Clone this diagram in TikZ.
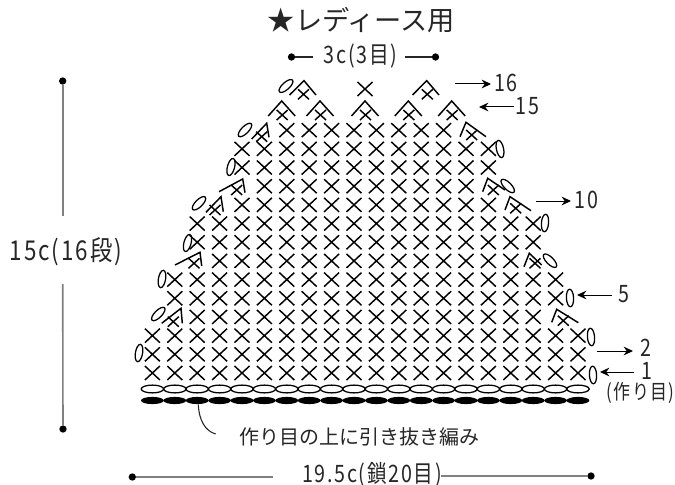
\documentclass[tikz,border=0pt]{standalone}
\usepackage{fontspec}
\usetikzlibrary{arrows.meta}
\newfontfamily\jpf{Noto Sans CJK JP}
\newfontfamily\jpn[FakeStretch=0.82,LetterSpace=7]{Noto Sans CJK JP}
\definecolor{dimgray}{HTML}{808080}
\tikzset{
  x=0.75pt,y=-0.75pt,
  st/.style={line width=1.1pt,black},
  ovl/.style={line width=0.95pt,black,fill=white},
  dimline/.style={line width=1.2pt,dimgray},
  thin line/.style={line width=0.8pt,black!85},
  arr/.style={line width=0.75pt,black,-{Stealth[length=7pt,width=6.5pt]}},
  dot/.style={circle,fill=black,inner sep=0pt,minimum size=5.5pt},
  lab/.style={inner sep=0pt,font=\jpn\fontsize{18}{18}\selectfont,text=black!85},
  title/.style={inner sep=0pt,font=\jpf\fontsize{20.4}{21}\selectfont,text=black!85},
  small/.style={inner sep=0pt,font=\jpf\fontsize{15}{15}\selectfont,text=black!85},
}
\newcommand{\colx}[1]{(152.4+22.4*(#1-1))}
\newcommand{\rowy}[1]{(373-18.68*(#1-1))}
\newcommand{\XS}[2]{\draw[st] (#1-7.5,#2-7)--(#1+7.5,#2+7) (#1-7.5,#2+7)--(#1+7.5,#2-7);}
% peak, left end, right end, cross centre
\newcommand{\INC}[8]{\draw[st,line join=miter] (#3,#4)--(#1,#2)--(#5,#6);
  \draw[st] (#7-5.5,#8-5)--(#7+5.5,#8+5) (#7-5.5,#8+5)--(#7+5.5,#8-5);}
\newcommand{\OV}[3]{\draw[ovl,fill=none,shift={(#1,#2)},rotate=#3] (0,0) ellipse [x radius=3.6,y radius=8.8];}
\begin{document}
\begin{tikzpicture}
\useasboundingbox (0,0) rectangle (675,485);
% single crochet rows
\foreach \r/\a/\b in {1/1/20,2/1/20,3/1/20,4/3/18,5/2/19,6/2/19,7/4/17,8/3/18,9/3/18,10/5/16,11/6/15,12/5/16,13/5/16,14/7/14}{
  \pgfmathsetmacro{\yy}{\rowy{\r}}
  \foreach \c in {\a,...,\b}{
    \pgfmathsetmacro{\xx}{\colx{\c}}
    \XS{\xx}{\yy}
  }
}
\XS{365}{89}
% top increases
\foreach \p in {281.7,320,365,408.3,451.7}{
  \INC{\p}{101}{\p-13.5}{116}{\p+13.5}{116}{\p+0.5}{115}
}
\INC{304}{80.7}{289.5}{95}{316}{95}{303.5}{94.3}
\INC{426.7}{80.7}{412.5}{95}{439}{95}{427.3}{94.3}
% left edge
\INC{266.7}{123.3}{251.7}{139}{269}{137.3}{261.7}{136.7}
\INC{242.7}{179}{219}{191.7}{245}{192.7}{236.7}{190}
\INC{221}{196.7}{206}{212.3}{223.3}{211.7}{215}{210}
\INC{200}{252.3}{175}{265}{201.7}{266}{194}{263.3}
\INC{181}{308.3}{161.7}{323.3}{182.3}{323.3}{173.3}{321.7}
% right edge
\INC{466}{122.3}{460}{136.7}{486}{136.7}{471.7}{135}
\INC{487.7}{178.3}{482.7}{191.7}{505}{190}{493.3}{190}
\INC{510}{196.7}{505}{210}{531}{210.7}{515.7}{208.3}
\INC{529.3}{253.3}{524}{266.7}{541.7}{265}{535}{263.3}
\INC{556.7}{309.3}{551.7}{322.3}{578.3}{322.7}{563.3}{320.7}
% chain-stitch ovals at the edges
\OV{286}{86}{-48}
\OV{245}{130}{-45}
\OV{231}{167}{-15}
\OV{199}{203.3}{-45}
\OV{187.5}{243}{-15}
\OV{162}{279}{-10}
\OV{158.3}{314}{-45}
\OV{139}{353}{-10}
\OV{500}{149}{12}
\OV{507.7}{186}{45}
\OV{545}{223}{-5}
\OV{550}{260.7}{45}
\OV{570}{298}{3}
\OV{591}{337}{5}
\OV{593}{375}{3}
% foundation chain
\foreach \c in {1,...,20}{
  \pgfmathsetmacro{\xx}{\colx{\c}}
  \draw[ovl,fill=none] (\xx,389) ellipse [x radius=11.2,y radius=3.9];
}
\foreach \c in {1,...,20}{
  \pgfmathsetmacro{\xx}{\colx{\c}}
  \fill[black] (\xx,400.5) ellipse [x radius=11.4,y radius=3.6];
}
% title
\node[title,anchor=center] (ttl) at (361.5,20.5) {★レディース用};
% top dimension
\node[lab] (top) at (360.5,56) {3c(3目)};
\node[dot] (td1) at (291.5,57) {};
\node[dot] (td2) at (435.5,57) {};
\coordinate (tl) at (313,57); \coordinate (tr) at (405,57);
\draw[thin line] (td1)--(tl);
\draw[thin line] (tr)--(td2);
% left dimension
\node[lab,font=\jpn\fontsize{20.5}{21}\selectfont] (lft) at (66,251.5) {15c(16段)};
\node[dot] (ld1) at (62.7,81) {};
\node[dot] (ld2) at (63,429) {};
\coordinate (lt) at (62.7,215.5); \coordinate (lb) at (62.7,284);
\draw[dimline] (ld1)--(lt);
\draw[dimline] (lb)--(ld2);
% bottom dimension
\node[lab] (bot) at (372,475) {19.5c(鎖20目)};
\node[dot] (bd1) at (132.3,477) {};
\node[dot] (bd2) at (591,476) {};
\coordinate (bl) at (273,477); \coordinate (br) at (441,476);
\draw[dimline] (bd1)--(bl);
\draw[dimline] (br)--(bd2);
% row labels
\node[lab,anchor=west] (n16) at (494,83) {16};
\node[lab,anchor=west] (n15) at (515.5,106) {15};
\node[lab,anchor=west] (n10) at (574.5,200) {10};
\node[lab,anchor=west] (n5) at (618.5,294) {5};
\node[lab,anchor=west] (n2) at (640,348) {2};
\node[lab,anchor=west] (n1) at (641,371) {1};
\node[lab,anchor=center,font=\jpn\fontsize{15.5}{16}\selectfont] (ctr) at (640.5,393) {(作り目)};
\coordinate (a16) at (455,84);  \coordinate (e16) at (491,84);
\coordinate (a15) at (514,107); \coordinate (e15) at (479,107);
\coordinate (a10) at (536,201); \coordinate (e10) at (571,201);
\coordinate (a5) at (612,295);  \coordinate (e5) at (577,295);
\coordinate (a2) at (597,351);  \coordinate (e2) at (633,351);
\coordinate (a1) at (634,372);  \coordinate (e1) at (600,372);
\draw[arr] (a16)--(e16);
\draw[arr] (a15)--(e15);
\draw[arr] (a10)--(e10);
\draw[arr] (a5)--(e5);
\draw[arr] (a2)--(e2);
\draw[arr] (a1)--(e1);
% leader
\node[small,anchor=west] (note) at (239,437) {作り目の上に引き抜き編み};
\coordinate (ls) at (198.3,404.5);
\coordinate (le) at (215.7,434);
\draw[thin line] (ls) .. controls (199,420) and (205,431) .. (le);
\end{tikzpicture}
\end{document}
